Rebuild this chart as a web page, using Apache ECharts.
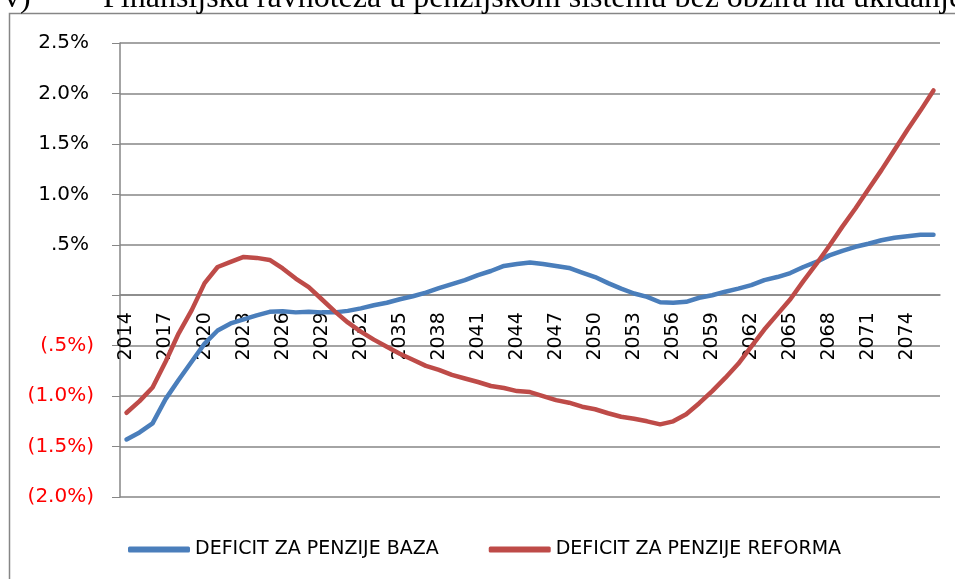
<!DOCTYPE html>
<html>
<head>
<meta charset="utf-8">
<script src="https://cdn.jsdelivr.net/npm/echarts@6/dist/echarts.min.js"></script>
<style>
  html, body { margin: 0; padding: 0; background: #fff; }
  #chart { width: 955px; height: 579px; }
</style>
</head>
<body>
<div id="chart"></div>
<script>
// godine
var years = [
  '2014', '2015', '2016', '2017', '2018', '2019', '2020', '2021', '2022', '2023',
  '2024', '2025', '2026', '2027', '2028', '2029', '2030', '2031', '2032', '2033',
  '2034', '2035', '2036', '2037', '2038', '2039', '2040', '2041', '2042', '2043',
  '2044', '2045', '2046', '2047', '2048', '2049', '2050', '2051', '2052', '2053',
  '2054', '2055', '2056', '2057', '2058', '2059', '2060', '2061', '2062', '2063',
  '2064', '2065', '2066', '2067', '2068', '2069', '2070', '2071', '2072', '2073',
  '2074', '2075', '2076'
]

// deficit, % BDP
var deficitBaza = [
  -1.43, -1.36, -1.27, -1.03, -0.84, -0.66, -0.48, -0.35, -0.28, -0.24,
  -0.20, -0.165, -0.16, -0.17, -0.165, -0.17, -0.17, -0.155, -0.13, -0.10,
  -0.075, -0.04, -0.01, 0.025, 0.07, 0.11, 0.15, 0.20, 0.24, 0.29,
  0.31, 0.325, 0.31, 0.29, 0.27, 0.225, 0.18, 0.12, 0.065, 0.017,
  -0.017, -0.07, -0.075, -0.065, -0.025, 0.0, 0.035, 0.065, 0.10, 0.15,
  0.18, 0.22, 0.28, 0.33, 0.395, 0.44, 0.48, 0.51, 0.545, 0.57,
  0.585, 0.60, 0.60
]

var deficitReforma = [
  -1.165, -1.05, -0.915, -0.66, -0.38, -0.15, 0.12, 0.28, 0.33, 0.38,
  0.37, 0.35, 0.265, 0.165, 0.08, -0.04, -0.16, -0.27, -0.36, -0.44,
  -0.51, -0.58, -0.64, -0.70, -0.74, -0.79, -0.825, -0.86, -0.90, -0.92,
  -0.95, -0.96, -1.00, -1.04, -1.065, -1.105, -1.13, -1.17, -1.205, -1.225,
  -1.25, -1.28, -1.25, -1.18, -1.07, -0.95, -0.82, -0.68, -0.51, -0.34,
  -0.19, -0.04, 0.14, 0.31, 0.49, 0.68, 0.86, 1.05, 1.24, 1.44,
  1.64, 1.83, 2.03
]

var yMin = -2.0
var yMax = 2.5
var yTickValues = [-2.0, -1.5, -1.0, -0.5, 0, 0.5, 1.0, 1.5, 2.0, 2.5]
var yTickLabels = ['(2.0%)', '(1.5%)', '(1.0%)', '(.5%)', '', '.5%', '1.0%', '1.5%', '2.0%', '2.5%']

var seriesNames = ['DEFICIT ZA PENZIJE BAZA', 'DEFICIT ZA PENZIJE REFORMA']
var title = 'Finansijska ravnoteža u penzijskom sistemu bez obzira na ukidanje'

var chart = echarts.init(document.getElementById('chart'))
var gridColor = '#868686'
var gridTop = 43
var gridBottom = 82
var plotHeight = 579 - gridTop - gridBottom
// os x lezi na nuli (onZero ovdje ne radi), pa je pomjeramo naviše
var zeroOffset = -plotHeight * (0 - yMin) / (yMax - yMin)

chart.setOption({
  animation: false,
  graphic: [
    {
      type: 'rect',
      shape: { x: 9.5, y: 13.5, width: 1000, height: 600 },
      style: { fill: 'none', stroke: gridColor, lineWidth: 1.5 }
    },
    {
      type: 'text',
      x: 4, y: 15,
      style: {
        text: 'v)',
        font: '32px "Liberation Serif"',
        fill: '#000',
        textVerticalAlign: 'bottom'
      }
    },
    {
      type: 'text',
      x: 103, y: 15,
      style: {
        text: title,
        font: '32px "Liberation Serif"',
        fill: '#000',
        textVerticalAlign: 'bottom'
      }
    }
  ],
  grid: {
    left: 120,
    right: 15,
    top: gridTop,
    bottom: gridBottom
  },
  legend: {
    data: [
      { name: seriesNames[0], icon: 'roundRect' },
      { name: seriesNames[1], icon: 'roundRect' }
    ],
    left: 128,
    top: 540,
    padding: 0,
    itemWidth: 62,
    itemHeight: 6,
    itemGap: 50,
    textStyle: {
      fontFamily: 'DejaVu Sans',
      fontSize: 19,
      color: '#000'
    }
  },
  xAxis: {
    type: 'category',
    data: years,
    boundaryGap: true,
    position: 'bottom',
    offset: zeroOffset,
    axisLine: {
      onZero: false,
      lineStyle: { color: gridColor, width: 1.5 }
    },
    axisTick: {
      interval: 0,
      length: 7,
      lineStyle: { color: gridColor }
    },
    axisLabel: {
      interval: 2,
      rotate: 90,
      margin: 17,
      fontFamily: 'DejaVu Sans',
      fontSize: 19,
      color: '#000'
    },
    splitLine: { show: false }
  },
  yAxis: {
    type: 'value',
    min: yMin,
    max: yMax,
    interval: 0.5,
    axisLine: {
      show: true,
      onZero: false,
      lineStyle: { color: gridColor, width: 1.5 }
    },
    axisTick: {
      show: true,
      length: 8,
      lineStyle: { color: gridColor }
    },
    splitLine: {
      lineStyle: { color: gridColor, width: 1.5 }
    },
    axisLabel: {
      margin: 26,
      formatter: function (v) {
        var i = yTickValues.indexOf(Math.round(v * 10) / 10)
        var lbl = i >= 0 ? yTickLabels[i] : ''
        if (lbl === '') return ''
        return v < 0 ? '{n|' + lbl + '}' : '{p|' + lbl + '}'
      },
      rich: {
        p: {
          fontFamily: 'DejaVu Sans',
          fontSize: 20,
          color: '#000',
          padding: [0, 5, 0, 0]
        },
        n: {
          fontFamily: 'DejaVu Sans',
          fontSize: 20,
          color: '#ff0000'
        }
      }
    }
  },
  series: [
    {
      name: seriesNames[0],
      type: 'line',
      data: deficitBaza,
      symbol: 'none',
      lineStyle: { color: '#4a7ebb', width: 4.5, cap: 'round', join: 'round' },
      itemStyle: { color: '#4a7ebb' }
    },
    {
      name: seriesNames[1],
      type: 'line',
      data: deficitReforma,
      symbol: 'none',
      lineStyle: { color: '#be4b48', width: 4.5, cap: 'round', join: 'round' },
      itemStyle: { color: '#be4b48' }
    }
  ]
})
</script>
</body>
</html>
